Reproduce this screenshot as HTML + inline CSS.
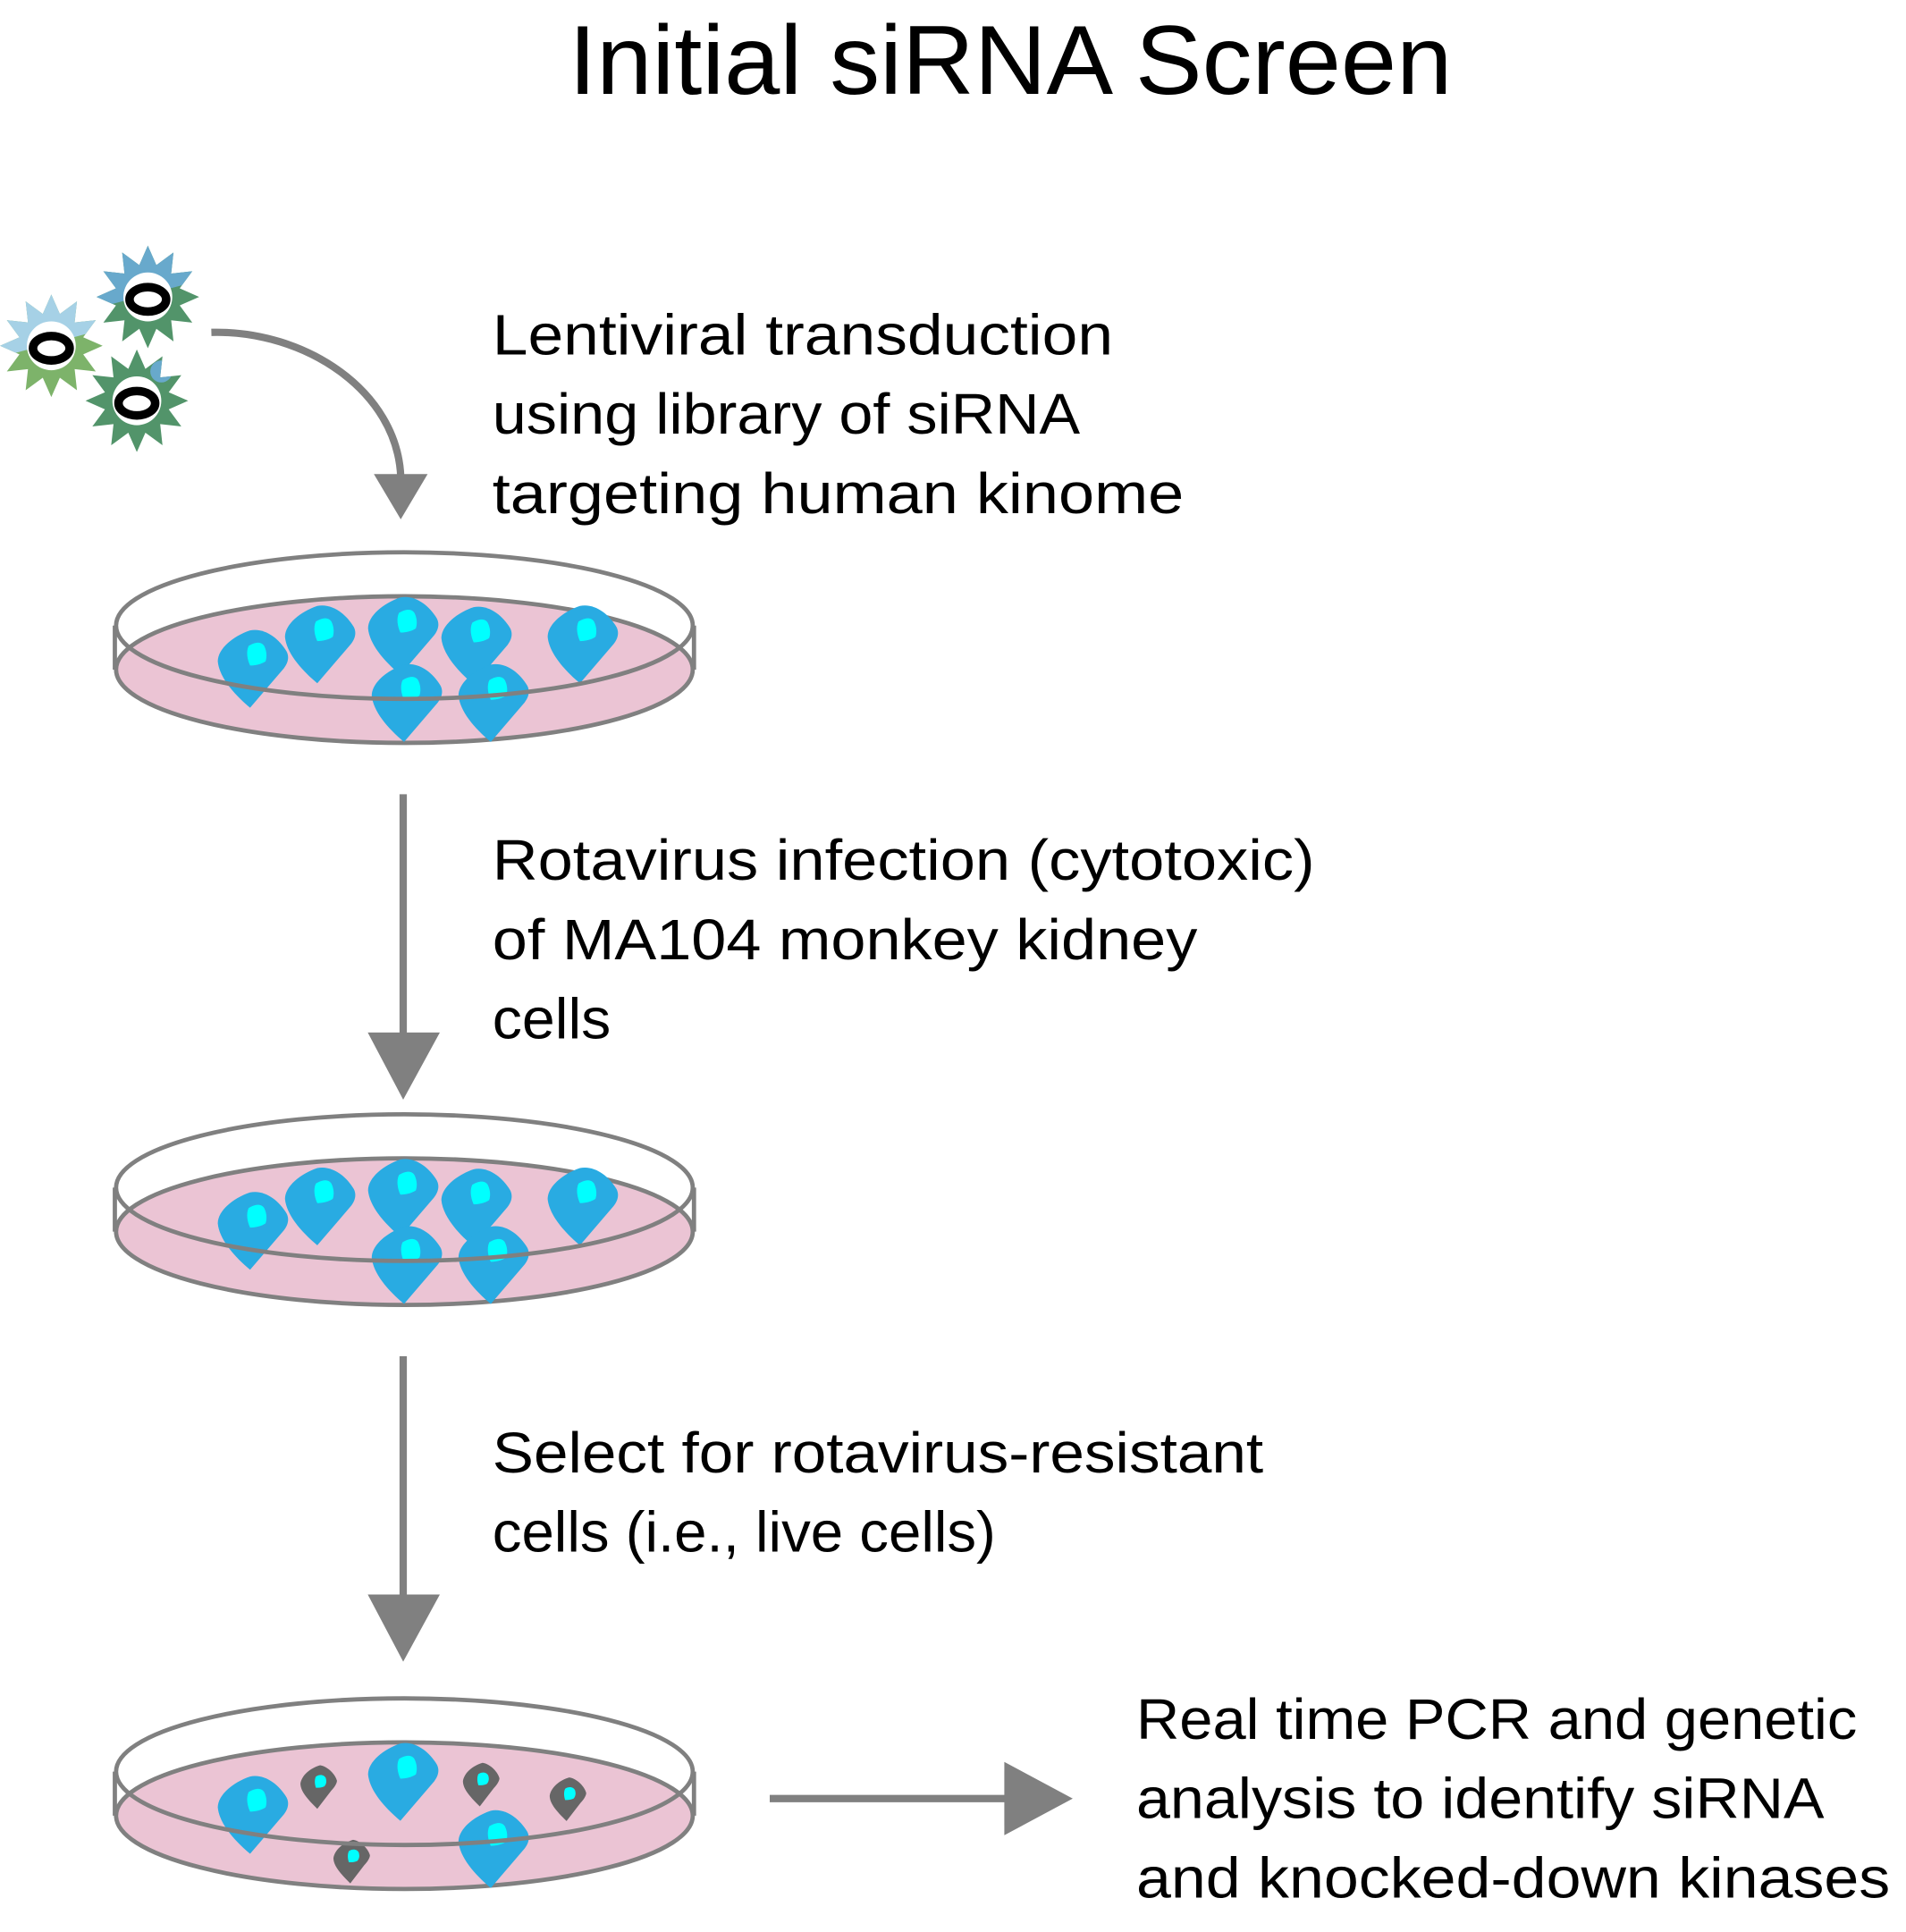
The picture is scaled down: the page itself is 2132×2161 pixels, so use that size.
<!DOCTYPE html>
<html><head><meta charset="utf-8"><style>
html,body{margin:0;padding:0;background:#fff;}
svg{display:block;}
text{font-family:"Liberation Sans",sans-serif;fill:#000;}
</style></head><body>
<svg width="2132" height="2161" viewBox="0 0 1560 1581.2" xmlns="http://www.w3.org/2000/svg">
<defs>
<polygon id="star" points="42,0 26.1,7 36.4,21 19.1,19.1 21,36.4 7,26.1 0,42 -7,26.1 -21,36.4 -19.1,19.1 -36.4,21 -26.1,7 -42,0 -26.1,-7 -36.4,-21 -19.1,-19.1 -21,-36.4 -7,-26.1 0,-42 7,-26.1 21,-36.4 19.1,-19.1 36.4,-21 26.1,-7"/>
<clipPath id="tophalf"><rect x="-60" y="-60" width="120" height="58" transform="rotate(-15)"/></clipPath>
<clipPath id="starclip"><use href="#star"/></clipPath>
<g id="ring"><circle r="20" fill="#fff"/><ellipse cy="2" rx="15" ry="10" fill="none" stroke="#000" stroke-width="7"/></g>
<g id="cellb"><path d="M-2,28 C-14,18 -24,6 -25,-5 C-25,-14 -14,-23 -2,-27 C8,-29 18,-22 24,-12 C26,-8 25,-4 22,0 Z" fill="#29abe2"/><path d="M-3,-16 C2,-19 6,-19 8,-16 C10,-12 10,-8 9,-5 C6,-3 2,-2 -2,-2 C-4,-6 -5,-12 -3,-16Z" fill="#00ffff"/></g>
<g id="cell"><use href="#cellb" transform="scale(1.15)"/></g>
<g id="deadb"><path d="M-2,16 C-8,10 -14,4 -14,-2 C-13,-8 -7,-13 0,-15 C6,-14 11,-8 12,-4 C12,-2 10,1 8,3 Z" fill="#666"/><path d="M-3,-7 C0,-9 3,-8 4,-6 C5,-3 4,-1 3,0 C1,1 -1,1 -3,1 C-4,-2 -4,-5 -3,-7Z" fill="#00ffff"/></g>
<g id="dead"><use href="#deadb" transform="scale(1.15)"/></g>
</defs>

<text x="827" y="77" font-size="80" text-anchor="middle" textLength="723" lengthAdjust="spacingAndGlyphs">Initial siRNA Screen</text>

<!-- viruses -->
<g transform="translate(121,243)"><use href="#star" fill="#52946a"/><use href="#star" fill="#68a9cc" clip-path="url(#tophalf)"/><use href="#ring"/></g>
<g transform="translate(42,283)"><use href="#star" fill="#7db36a"/><use href="#star" fill="#a6d1e6" clip-path="url(#tophalf)"/><use href="#ring"/></g>
<g transform="translate(112,328)"><use href="#star" fill="#52946a"/><circle cx="20" cy="-24" r="9" fill="#68a9cc" clip-path="url(#starclip)"/><use href="#ring"/></g>

<!-- curved arrow -->
<path d="M173,272 C250,270 325,320 328,390" fill="none" stroke="#808080" stroke-width="6"/>
<polygon points="306,388 350,388 328,425" fill="#808080"/>

<text font-size="47" x="403" y="290" textLength="508" lengthAdjust="spacingAndGlyphs">Lentiviral transduction</text>
<text font-size="47" x="403" y="355" textLength="481" lengthAdjust="spacingAndGlyphs">using library of siRNA</text>
<text font-size="47" x="403" y="420" textLength="566" lengthAdjust="spacingAndGlyphs">targeting human kinome</text>

<!-- dish 1 -->
<g>
<ellipse cx="331" cy="548" rx="236" ry="60" fill="#ebc4d4" stroke="#808080" stroke-width="3.5"/>
<line x1="94" y1="512" x2="94" y2="548" stroke="#808080" stroke-width="3.5"/>
<line x1="568" y1="512" x2="568" y2="548" stroke="#808080" stroke-width="3.5"/>
<use href="#cell" x="207" y="547"/><use href="#cell" x="262" y="527"/><use href="#cell" x="330" y="520"/><use href="#cell" x="390" y="528"/><use href="#cell" x="477" y="527"/><use href="#cell" x="333" y="575"/><use href="#cell" x="404" y="575"/>
<ellipse cx="331" cy="512" rx="236" ry="60" fill="none" stroke="#808080" stroke-width="3.5"/>
</g>

<line x1="330" y1="650" x2="330" y2="846" stroke="#808080" stroke-width="6"/>
<polygon points="301,845 360,845 330,900" fill="#808080"/>
<text font-size="47" x="403" y="720" textLength="673" lengthAdjust="spacingAndGlyphs">Rotavirus infection (cytotoxic)</text>
<text font-size="47" x="403" y="785" textLength="577" lengthAdjust="spacingAndGlyphs">of MA104 monkey kidney</text>
<text font-size="47" x="403" y="850" textLength="97" lengthAdjust="spacingAndGlyphs">cells</text>

<!-- dish 2 -->
<g transform="translate(0,460)">
<ellipse cx="331" cy="548" rx="236" ry="60" fill="#ebc4d4" stroke="#808080" stroke-width="3.5"/>
<line x1="94" y1="512" x2="94" y2="548" stroke="#808080" stroke-width="3.5"/>
<line x1="568" y1="512" x2="568" y2="548" stroke="#808080" stroke-width="3.5"/>
<use href="#cell" x="207" y="547"/><use href="#cell" x="262" y="527"/><use href="#cell" x="330" y="520"/><use href="#cell" x="390" y="528"/><use href="#cell" x="477" y="527"/><use href="#cell" x="333" y="575"/><use href="#cell" x="404" y="575"/>
<ellipse cx="331" cy="512" rx="236" ry="60" fill="none" stroke="#808080" stroke-width="3.5"/>
</g>

<line x1="330" y1="1110" x2="330" y2="1306" stroke="#808080" stroke-width="6"/>
<polygon points="301,1305 360,1305 330,1360" fill="#808080"/>
<text font-size="47" x="403" y="1205" textLength="631" lengthAdjust="spacingAndGlyphs">Select for rotavirus-resistant</text>
<text font-size="47" x="403" y="1270" textLength="412" lengthAdjust="spacingAndGlyphs">cells (i.e., live cells)</text>

<!-- dish 3 -->
<g transform="translate(0,938)">
<ellipse cx="331" cy="548" rx="236" ry="60" fill="#ebc4d4" stroke="#808080" stroke-width="3.5"/>
<line x1="94" y1="512" x2="94" y2="548" stroke="#808080" stroke-width="3.5"/>
<line x1="568" y1="512" x2="568" y2="548" stroke="#808080" stroke-width="3.5"/>
<use href="#cell" x="207" y="547"/><use href="#cell" x="330" y="520"/><use href="#cell" x="404" y="575"/>
<use href="#dead" x="262" y="524"/><use href="#dead" x="395" y="522"/><use href="#dead" x="466" y="534"/><use href="#dead" x="289" y="585"/>
<ellipse cx="331" cy="512" rx="236" ry="60" fill="none" stroke="#808080" stroke-width="3.5"/>
</g>

<line x1="630" y1="1472" x2="824" y2="1472" stroke="#808080" stroke-width="6"/>
<polygon points="822,1442 822,1502 878,1472" fill="#808080"/>
<text font-size="47" x="930" y="1423" textLength="590" lengthAdjust="spacingAndGlyphs">Real time PCR and genetic</text>
<text font-size="47" x="930" y="1488" textLength="563" lengthAdjust="spacingAndGlyphs">analysis to identify siRNA</text>
<text font-size="47" x="930" y="1553" textLength="617" lengthAdjust="spacingAndGlyphs">and knocked-down kinases</text>
</svg>
</body></html>
